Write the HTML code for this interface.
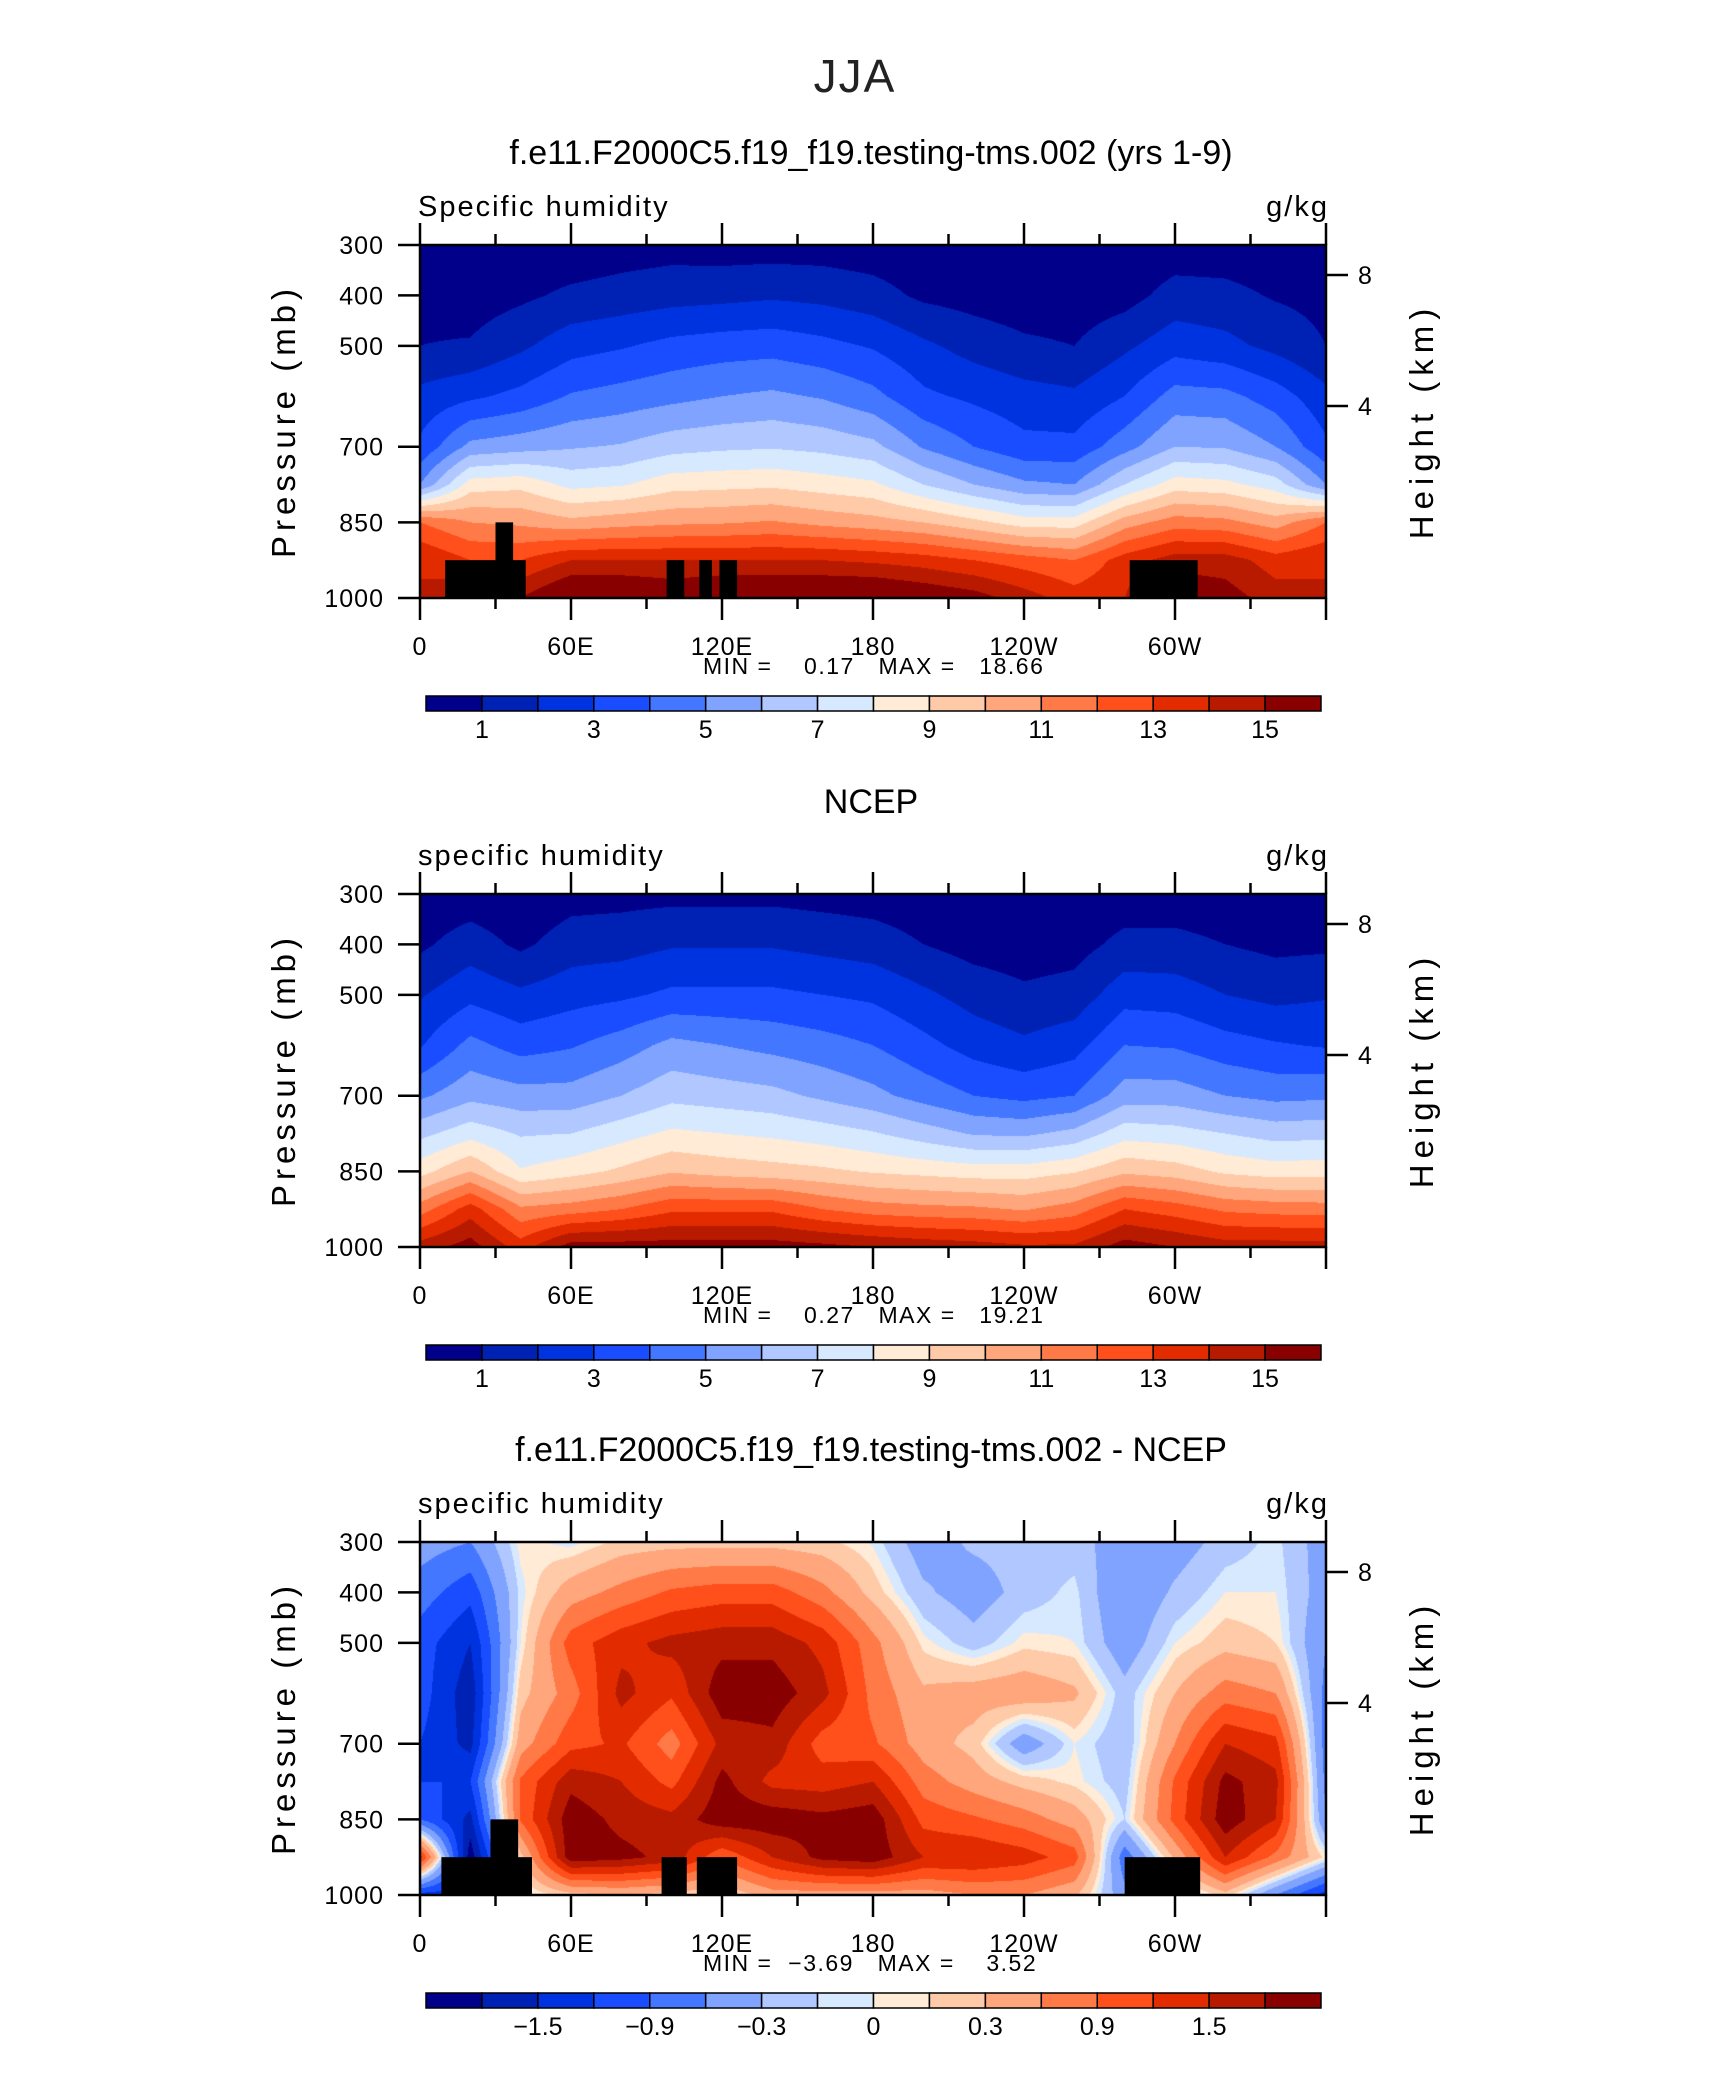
<!DOCTYPE html>
<html><head><meta charset="utf-8">
<style>
html,body{margin:0;padding:0;background:#fff;}
#root{position:relative;width:1710px;height:2074px;overflow:hidden;background:#fff;font-family:"Liberation Sans",sans-serif;}
canvas{position:absolute;}
svg{position:absolute;left:0;top:0;}
</style></head>
<body>
<div id="root">
<canvas id="c0" width="906" height="353" style="left:420px;top:245px"></canvas>
<canvas id="c1" width="906" height="353" style="left:420px;top:894px"></canvas>
<canvas id="c2" width="906" height="353" style="left:420px;top:1542px"></canvas>
<svg id="s" width="1710" height="2074"></svg>
</div>
<script>
// ---------- data ----------
const lons = [0,20,40,60,80,100,120,140,160,180,200,220,240,260,280,300,320,340,360];
const levels = [300,400,500,600,700,775,850,925,1000];
const modelQ = [
[0.5,0.7,1.0,2.3,3.2,5.0,12,14,14],
[0.3,0.5,1.1,2.8,5.3,8.5,11,13,15],
[0.3,0.8,1.8,3.3,5.6,8.7,10.8,13,15],
[0.3,1.2,2.6,4.1,5.9,7.7,10.3,14,16.5],
[0.5,1.4,2.9,4.4,6.1,7.9,10.6,14,16.5],
[0.6,1.6,3.3,4.7,6.6,8.6,10.8,14,16],
[0.5,1.7,3.5,5.0,6.8,8.7,10.9,14,16.5],
[0.5,1.85,3.6,5.2,6.9,8.8,11.1,14,16.5],
[0.5,1.7,3.3,4.9,6.7,8.5,10.7,14,16.5],
[0.4,1.4,2.9,4.3,6.3,8.2,10.4,13.8,16.5],
[0.3,0.8,2.2,3.2,4.9,7.0,10,13.5,16],
[0.2,0.6,1.6,2.8,4.0,6.0,9.3,13,15.5],
[0.2,0.4,1.2,2.4,3.3,5.2,8.5,12.5,14.5],
[0.2,0.4,1.0,2.2,3.3,5.0,8.5,12,13.5],
[0.2,0.6,1.8,3.0,4.6,7.0,10.5,13.5,14],
[0.4,1.4,2.6,4.4,6.0,8.5,11.5,14.5,16],
[0.4,1.3,2.3,4.3,5.9,8.3,11.3,14.5,15.5],
[0.3,0.9,1.7,3.5,5.0,7.5,10.5,13.5,14.5],
[0.5,0.7,1.0,2.3,3.2,5.0,12,14,14]
];
const ncepQ = [
[0.3,0.8,1.9,2.9,4.8,6.7,8.6,11.5,14.5],
[0.4,1.5,2.7,4.3,5.7,7.6,10,13.5,15.5],
[0.2,0.8,2.2,3.6,5.4,6.9,8.1,11.2,13.5],
[0.6,1.5,2.6,3.9,5.4,7.0,8.6,11.5,15.5],
[0.65,1.6,2.8,4.5,6.0,7.6,9.2,12,15.5],
[0.7,1.9,3.2,5.3,6.7,8.2,9.9,12.8,15.5],
[0.7,1.9,3.2,5.0,6.5,8.0,9.6,12.8,15.5],
[0.7,1.9,3.2,4.7,6.3,7.8,9.4,12.8,15.5],
[0.6,1.7,3.0,4.4,5.8,7.5,9.2,12,15.3],
[0.5,1.5,2.8,4.0,5.3,7.1,8.9,11.5,15],
[0.35,1.0,2.2,3.3,4.6,6.5,8.7,11.3,14.7],
[0.2,0.6,1.6,2.6,4.0,5.9,8.5,11.2,14.5],
[0.15,0.45,1.2,2.2,3.7,5.8,8.5,10.9,14.2],
[0.2,0.6,1.4,2.6,4.0,6.3,8.9,11.5,14.2],
[0.4,1.3,2.6,4.0,5.5,7.6,9.8,13,15.5],
[0.4,1.3,2.5,3.9,5.5,7.4,9.5,12.5,15],
[0.3,1.0,2.0,3.4,5.0,7.0,8.8,11.8,14.5],
[0.25,0.75,1.7,3.1,4.7,6.6,8.5,11.6,14.5],
[0.3,0.8,1.9,2.9,4.8,6.7,8.6,11.5,14.5]
];
const diffQ = [
[-0.45,-0.75,-1.05,-1.05,-1.2,-1.2,-0.9,1.35,-1.35],
[-0.6,-1.1,-1.5,-1.7,-1.6,-1.2,-1.6,-2.0,-1.35],
[0.05,-0.05,0.0,0.2,0.45,0.95,0.95,0.2,-0.1],
[-0.05,0.45,1.05,0.75,1.1,1.7,2.0,2.0,0.2],
[0.15,0.7,1.4,1.6,1.25,1.5,1.7,1.9,0.3],
[0.2,0.95,1.6,1.25,0.75,1.1,1.6,1.7,0.2],
[0.2,1.05,1.7,2.0,1.6,1.9,2.0,0.95,0.05],
[0.2,1.05,1.7,2.0,1.7,1.4,2.0,1.5,0.45],
[0.15,0.7,1.4,1.6,1.05,1.35,1.9,1.9,0.45],
[-0.02,0.2,0.7,0.8,0.95,1.5,2.0,2.0,0.45],
[-0.45,-0.25,0.05,0.35,0.45,0.75,1.1,1.5,0.45],
[-0.25,-0.45,-0.2,0.45,0.2,0.45,0.95,1.5,0.6],
[-0.2,-0.2,0.05,0.5,-0.5,0.2,0.75,1.35,0.6],
[-0.2,-0.05,0.0,0.35,0.0,0.05,0.45,1.05,0.35],
[-0.45,-0.6,-0.5,-0.2,-0.25,-0.2,-0.1,-0.8,-0.5],
[-0.45,-0.25,0.0,0.3,0.6,0.95,1.0,0.35,-0.3],
[-0.2,0.0,0.2,0.75,1.5,1.9,2.0,1.5,0.2],
[-0.05,0.0,0.1,0.6,1.3,1.6,1.5,0.8,-0.6],
[-0.45,-0.45,-0.6,-0.7,-0.75,-0.7,-0.6,0.05,-1.35]
];
const qBounds = [1,2,3,4,5,6,7,8,9,10,11,12,13,14,15];
const dBounds = [-1.8,-1.5,-1.2,-0.9,-0.6,-0.3,-0.1,0,0.1,0.3,0.6,0.9,1.2,1.5,1.8];
const qLabels = ["1","3","5","7","9","11","13","15"];
const dLabels = ["\u22121.5","\u22120.9","\u22120.3","0","0.3","0.9","1.5"];
const palette = ["#00008a","#0022b4","#0033e0","#1a4dff","#4477ff","#7fa3ff","#b0c8ff","#d7e9ff","#ffebd6","#ffcaa8","#ffa67d","#ff7a46","#ff4f1a","#e22c00","#b81a00","#880000"];
const topoModel = [[10,42,925],[30,37,850],[98,105,925],[111,116,925],[119,126,925],[282,309,925]];
const topoDiff = [[8.5,44.5,925],[28,39,850],[96,106,925],[110,126,925],[280,310,925]];
const xTickLabels = ["0","60E","120E","180","120W","60W"];
const xTickLons = [0,60,120,180,240,300];
const yTickLabels = ["300","400","500","700","850","1000"];
const yTickPs = [300,400,500,700,850,1000];
const hTickLabels = ["8","4"];
const hTickYs = [275,406];
// ---------- geometry ----------
const X0=420, X1=1326, PH=353;
const tops=[245,894,1542];
function xOf(lon){return X0+(lon/360)*(X1-X0);}
function yOf(p,top){return top+(p-300)/700*PH;}
function interp(grid,lon,p){
  let i=Math.min(Math.floor(lon/20),lons.length-2); let fx=(lon-lons[i])/20;
  let j=0; while(j<levels.length-2 && p>levels[j+1]) j++;
  let fy=(p-levels[j])/(levels[j+1]-levels[j]);
  const a=grid[i][j],b=grid[i+1][j],c=grid[i][j+1],d=grid[i+1][j+1];
  return (a*(1-fx)+b*fx)*(1-fy)+(c*(1-fx)+d*fx)*fy;
}
function hex(h){return [parseInt(h.substr(1,2),16),parseInt(h.substr(3,2),16),parseInt(h.substr(5,2),16)];}
const pal=palette.map(hex);
function drawField(id,grid,bounds){
  const cv=document.getElementById(id),ctx=cv.getContext('2d');
  const W=cv.width,H=cv.height,img=ctx.createImageData(W,H);
  for(let y=0;y<H;y++){const p=300+(y+0.5)/H*700;
    for(let x=0;x<W;x++){const lon=(x+0.5)/W*360;
      const v=interp(grid,lon,p);let k=0;while(k<bounds.length&&v>=bounds[k])k++;
      const c=pal[k],o=(y*W+x)*4;img.data[o]=c[0];img.data[o+1]=c[1];img.data[o+2]=c[2];img.data[o+3]=255;}}
  ctx.putImageData(img,0,0);
}
drawField('c0',modelQ,qBounds);
drawField('c1',ncepQ,qBounds);
drawField('c2',diffQ,dBounds);
// ---------- svg overlay ----------
const NS="http://www.w3.org/2000/svg";const svg=document.getElementById('s');
function el(tag,attrs,parent){const e=document.createElementNS(NS,tag);for(const k in attrs)e.setAttribute(k,attrs[k]);(parent||svg).appendChild(e);return e;}
function txt(s,attrs,parent){const e=el('text',attrs,parent);e.textContent=s;return e;}
const t0=txt("JJA",{x:855,y:92,"font-size":46,"text-anchor":"middle",fill:"#222","letter-spacing":"2"});

const titles=["f.e11.F2000C5.f19_f19.testing-tms.002 (yrs 1-9)","NCEP","f.e11.F2000C5.f19_f19.testing-tms.002 - NCEP"];
const varNames=["Specific humidity","specific humidity","specific humidity"];
const minmax=["MIN =    0.17   MAX =   18.66","MIN =    0.27   MAX =   19.21","MIN =  \u22123.69   MAX =    3.52"];
for(let k=0;k<3;k++){
  const T=tops[k],o=T-245;
  const g=el('g',{});
  
  const ti=txt(titles[k],{x:871,y:164+o,"font-size":34,"text-anchor":"middle"},g);
  
  const vn=txt(varNames[k],{x:418,y:216+o,"font-size":29,"letter-spacing":"2"},g);
  
  const un=txt("g/kg",{x:1329,y:216+o,"font-size":29,"text-anchor":"end","letter-spacing":"2"},g);
  
  const topo = k===0?topoModel:(k===2?topoDiff:[]);
  topo.forEach(b=>{const r=el('rect',{x:xOf(b[0]),y:yOf(b[2],T),width:xOf(b[1])-xOf(b[0]),height:yOf(1000,T)-yOf(b[2],T),fill:"#000"},g);
    });
  const fr=el('rect',{x:X0,y:T,width:X1-X0,height:PH,fill:"none",stroke:"#000","stroke-width":2.5},g);
  
  for(let lon=0;lon<=360;lon+=30){const major=lon%60===0;const x=xOf(lon);
    el('line',{x1:x,x2:x,y1:T-(major?22:11),y2:T,stroke:"#000","stroke-width":2.5},g);
    el('line',{x1:x,x2:x,y1:T+PH,y2:T+PH+(major?22:11),stroke:"#000","stroke-width":2.5},g);}
  xTickLabels.forEach((s,i)=>{const e=txt(s,{x:xOf(xTickLons[i]),y:655+o,"font-size":25,"text-anchor":"middle","letter-spacing":"1"},g);
    });
  yTickLabels.forEach((s,i)=>{const y=yOf(yTickPs[i],T);
    el('line',{x1:X0-22,x2:X0,y1:y,y2:y,stroke:"#000","stroke-width":2.5},g);
    const e=txt(s,{x:384,y:y+9,"font-size":25,"text-anchor":"end","letter-spacing":"1"},g);
    });
  hTickLabels.forEach((s,i)=>{const y=hTickYs[i]+o;
    el('line',{x1:X1,x2:X1+22,y1:y,y2:y,stroke:"#000","stroke-width":2.5},g);
    const e=txt(s,{x:1358,y:y+9,"font-size":25},g);
    });
  const yl=txt("Pressure (mb)",{x:0,y:0,"font-size":33,"letter-spacing":"5","text-anchor":"middle",transform:"translate(295,"+(421+o)+") rotate(-90)"},g);
  
  const hl=txt("Height (km)",{x:0,y:0,"font-size":33,"letter-spacing":"6","text-anchor":"middle",transform:"translate(1433,"+(421+o)+") rotate(-90)"},g);
  
  const mm=txt(minmax[k],{x:703,y:674+o,"font-size":23,"letter-spacing":"1.5"},g);
  mm.setAttribute('style','white-space:pre');
  
  const cb=el('g',{},g);
  const cx0=426,cx1=1321,bw=(cx1-cx0)/16;
  palette.forEach((c,i)=>{const r=el('rect',{x:cx0+i*bw,y:696+o,width:bw,height:15,fill:c,stroke:"#000","stroke-width":1.5},cb);
    });
  const labs=k===2?dLabels:qLabels;const start=k===2?2:1;
  labs.forEach((s,i)=>{const e=txt(s,{x:cx0+(start+2*i)*bw,y:738+o,"font-size":25,"text-anchor":"middle"},cb);
    });
}
</script>
</body></html>
